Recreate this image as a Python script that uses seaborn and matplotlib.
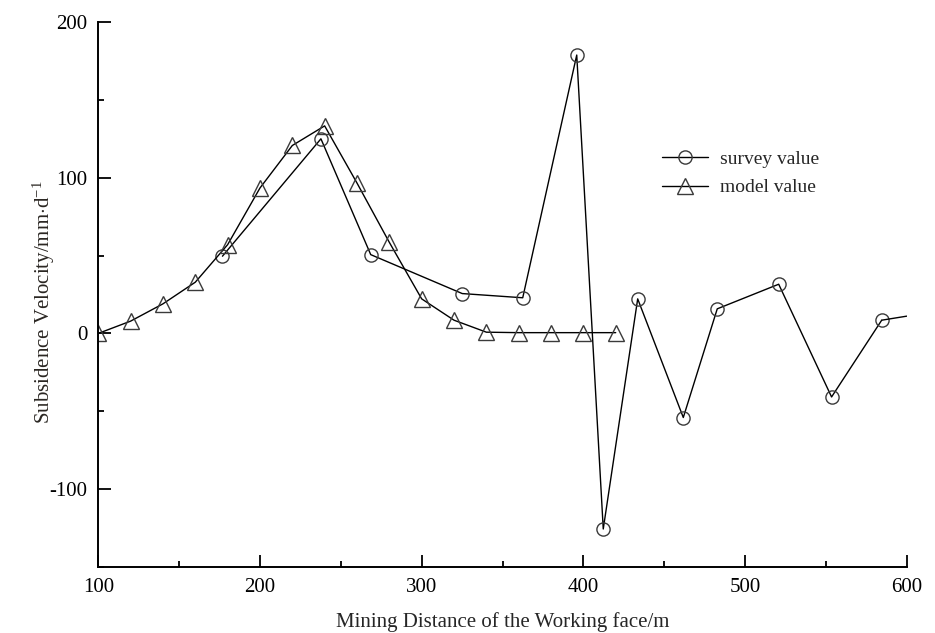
import numpy as np
import pandas as pd
import seaborn as sns
import matplotlib
matplotlib.use("Agg")
import matplotlib.pyplot as plt
from matplotlib.ticker import MultipleLocator

# Measured subsidence velocity (survey) and fitted curve (model), mm/d
survey_x = [176.8, 237.7, 268.5, 325.1, 362.5, 395.9, 412.3, 433.6, 461.8,
            482.8, 520.8, 553.5, 584.5, 600.0]
survey_y = [49.6, 125.0, 50.6, 25.6, 22.9, 178.8, -125.6, 22.2, -54.0,
            15.8, 31.6, -40.8, 8.5, 11.1]
# the last survey point only continues the line, it carries no marker
survey_marked = 13

model_x = [100, 120, 140, 160, 180, 200, 220, 240, 260, 280, 300, 320,
           340, 360, 380, 400, 420]
model_y = [0.0, 7.9, 19.0, 32.9, 57.0, 93.4, 120.7, 133.3, 96.6, 58.5,
           22.2, 8.5, 0.8, 0.5, 0.5, 0.5, 0.5]

x_ticks = [100, 200, 300, 400, 500, 600]
y_ticks = [-100, 0, 100, 200]

sns.set_theme(style="ticks")
plt.rcParams["font.family"] = ["Liberation Serif", "DejaVu Serif"]
plt.rcParams["mathtext.fontset"] = "custom"
plt.rcParams["mathtext.rm"] = "Liberation Serif"
plt.rcParams["mathtext.it"] = "Liberation Serif:italic"
plt.rcParams["axes.unicode_minus"] = False

fig = plt.figure(figsize=(9.35, 6.33), dpi=100)
ax = fig.add_axes([0.1051, 0.1043, 0.8647, 0.8609])

survey = pd.DataFrame({"x": survey_x, "y": survey_y})
model = pd.DataFrame({"x": model_x, "y": model_y})

marker_kw = dict(markerfacecolor="none", markeredgecolor="#3a3a3a",
                 markeredgewidth=1.0)

sns.lineplot(data=survey.iloc[:survey_marked], x="x", y="y", ax=ax,
             color="black", linewidth=1.0, marker="o", markersize=9.5,
             label="survey value", **marker_kw)
sns.lineplot(data=survey.iloc[survey_marked - 1:], x="x", y="y", ax=ax,
             color="black", linewidth=1.0, legend=False)
sns.lineplot(data=model, x="x", y="y", ax=ax, color="black", linewidth=1.0,
             marker="^", markersize=11, label="model value", **marker_kw)

ax.set_xlim(100, 600)
ax.set_ylim(-150, 200)
ax.set_xticks(x_ticks)
ax.set_yticks(y_ticks)
ax.xaxis.set_minor_locator(MultipleLocator(50))
ax.yaxis.set_minor_locator(MultipleLocator(50))
ax.tick_params(which="major", direction="in", length=9, width=1.3,
               labelsize=15, colors="black", pad=8)
ax.tick_params(which="minor", direction="in", length=4, width=1.3,
               colors="black")
ax.tick_params(axis="y", which="both", left=True, labelleft=True)
ax.tick_params(axis="x", which="both", bottom=True)

for side in ("top", "right"):
    ax.spines[side].set_visible(False)
for side in ("left", "bottom"):
    ax.spines[side].set_linewidth(1.4)
    ax.spines[side].set_color("black")

ax.set_xlabel("Mining Distance of the Working face/m", fontsize=15)
ax.xaxis.set_label_coords(0.5, -0.083)
ax.set_ylabel(r"Subsidence Velocity/mm$\cdot$d$^{-1}$", fontsize=15,
              color="#2a2622")
ax.yaxis.set_label_coords(-0.0515, 0.485)

leg = ax.legend(loc="upper left", bbox_to_anchor=(0.708, 0.7623),
                bbox_transform=fig.transFigure, frameon=False, fontsize=14,
                borderpad=0, handlelength=2.37, handletextpad=0.62,
                labelspacing=0.55, borderaxespad=0)

fig.savefig("out.png", dpi=100, facecolor="white")
